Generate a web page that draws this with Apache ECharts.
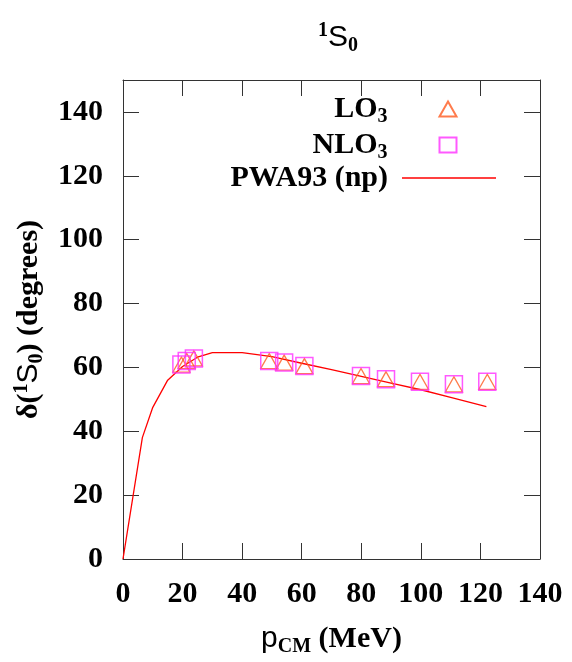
<!DOCTYPE html>
<html>
<head>
<meta charset="utf-8">
<script src="https://cdn.jsdelivr.net/npm/echarts@6/dist/echarts.min.js"></script>
<style>html,body{margin:0;padding:0;background:#fff}#c{width:572px;height:662px}</style>
</head>
<body>
<div id="c"></div>
<script>
var xTicks = [0, 20, 40, 60, 80, 100, 120, 140];
var yTicks = [0, 20, 40, 60, 80, 100, 120, 140];
var pointsP = [19.6, 21.4, 23.8, 49.1, 54.1, 60.9, 79.9, 88.3, 99.7, 111.1, 122.3];
var lo3 = [60.9, 62.0, 62.8, 62.0, 61.5, 60.4, 57.3, 56.3, 55.5, 54.7, 55.5];
var nlo3 = [60.9, 62.0, 62.8, 62.0, 61.5, 60.4, 57.3, 56.3, 55.5, 54.7, 55.5];
var pwaP = [0, 6.5, 10, 15, 20, 25, 30, 40, 50, 60, 70, 80, 90, 100, 110, 122];
var pwaDelta = [0, 38, 47.5, 56, 60.3, 63.2, 64.6, 64.6, 63.4, 61.3, 59.3, 57.2, 55.1, 53, 50.6, 47.7];

function pairs(xs, ys) { return xs.map(function (x, i) { return [x, ys[i]]; }); }

var serif = 'Liberation Serif';
var sans = 'Liberation Sans';
var bw = 'bold';
var axisCol = '#333';
var subStyle = { fontFamily: serif, fontWeight: bw, fontSize: 20, color: '#000', padding: [16, 0, 0, 0] };
var legendText = {
  fontFamily: serif, fontWeight: bw, fontSize: 30, color: '#000', lineHeight: 28,
  rich: { sub: subStyle }
};
function sideAxis(pos, max) {
  return {
    type: 'value', min: 0, max: max, interval: 20, position: pos,
    axisLine: { show: true, onZero: false, lineStyle: { color: axisCol, width: 1 } },
    axisTick: { show: true, inside: true, length: 16, lineStyle: { color: axisCol } },
    axisLabel: { show: false }, splitLine: { show: false }
  };
}
var chart = echarts.init(document.getElementById('c'));
chart.setOption({
  animation: false,
  backgroundColor: '#fff',
  title: {
    text: '{sup|1}{s|S}{sub|0}',
    left: 333, top: 15, textAlign: 'center',
    textStyle: {
      rich: {
        sup: { fontFamily: serif, fontSize: 20, color: '#000', padding: [0, 0, 14, 0] },
        s: { fontFamily: sans, fontWeight: 'normal', fontSize: 30, color: '#000' },
        sub: { fontFamily: serif, fontSize: 20, color: '#000', padding: [16, 0, 0, 0] }
      }
    }
  },
  grid: { left: 123, right: 32, top: 80, bottom: 102 },
  legend: [{
    orient: 'vertical', align: 'right',
    right: 109.5, top: 89,
    itemWidth: 17, itemHeight: 15, itemGap: 3, symbolKeepAspect: true,
    data: ['LO3', 'NLO3'],
    formatter: function (n) { return n === 'LO3' ? 'LO{sub|3}' : 'NLO{sub|3}'; },
    textStyle: Object.assign({}, legendText, { padding: [0, 47, 0, 0] })
  }, {
    orient: 'vertical', align: 'right',
    right: 71, top: 158,
    itemWidth: 94, itemHeight: 1.5,
    data: [{ name: 'PWA93 (np)', icon: 'rect' }],
    textStyle: Object.assign({}, legendText, { padding: [0, 9, 0, 0] })
  }],
  xAxis: [{
    type: 'value', min: 0, max: 140, interval: 20,
    name: '{p|p}{sub|CM}{n| (MeV)}', nameLocation: 'middle', nameGap: 62,
    nameTextStyle: {
      rich: {
        p: { fontFamily: sans, fontSize: 30, color: '#000' },
        sub: subStyle,
        n: { fontFamily: serif, fontWeight: bw, fontSize: 30, color: '#000' }
      }
    },
    axisLine: { onZero: false, lineStyle: { color: axisCol, width: 1 } },
    axisTick: { inside: true, length: 16, lineStyle: { color: axisCol } },
    axisLabel: { fontFamily: serif, fontWeight: bw, fontSize: 30, color: '#000', margin: 20,
      formatter: function (v) { return xTicks.indexOf(v) >= 0 ? String(v) : ''; } },
    splitLine: { show: false }
  }, sideAxis('top', 140)],
  yAxis: [{
    type: 'value', min: 0, max: 150, interval: 20,
    name: '{d|δ(}{sup|1}{s|S}{sub|0}{d|) (degrees)}', nameLocation: 'middle', nameGap: 76, nameRotate: 90,
    nameTextStyle: {
      rich: {
        d: { fontFamily: serif, fontWeight: bw, fontSize: 30, color: '#000' },
        sup: { fontFamily: serif, fontWeight: bw, fontSize: 20, color: '#000', padding: [0, 0, 14, 0] },
        s: { fontFamily: sans, fontSize: 30, color: '#000' },
        sub: subStyle
      }
    },
    axisLine: { show: true, onZero: false, lineStyle: { color: axisCol, width: 1 } },
    axisTick: { inside: true, length: 16, lineStyle: { color: axisCol } },
    axisLabel: { fontFamily: serif, fontWeight: bw, fontSize: 30, color: '#000', margin: 20, showMaxLabel: false,
      formatter: function (v) { return yTicks.indexOf(v) >= 0 ? String(v) : ''; } },
    splitLine: { show: false }
  }, sideAxis('right', 150)],
  series: [{
    name: 'LO3', type: 'scatter', symbol: 'triangle', symbolSize: [17, 15],
    itemStyle: { color: 'rgba(0,0,0,0)', borderColor: '#ff5a1f', borderWidth: 1.3 },
    data: pairs(pointsP, lo3), z: 3
  }, {
    name: 'NLO3', type: 'scatter', symbol: 'rect', symbolSize: 17,
    itemStyle: { color: 'rgba(0,0,0,0)', borderColor: '#ff30ff', borderWidth: 1.5 },
    data: pairs(pointsP, nlo3), z: 4
  }, {
    name: 'PWA93 (np)', type: 'line', symbol: 'none', showSymbol: false,
    lineStyle: { color: '#ff0000', width: 1.3 }, itemStyle: { color: '#ff0000' },
    data: pairs(pwaP, pwaDelta), z: 2
  }]
});
</script>
</body>
</html>
